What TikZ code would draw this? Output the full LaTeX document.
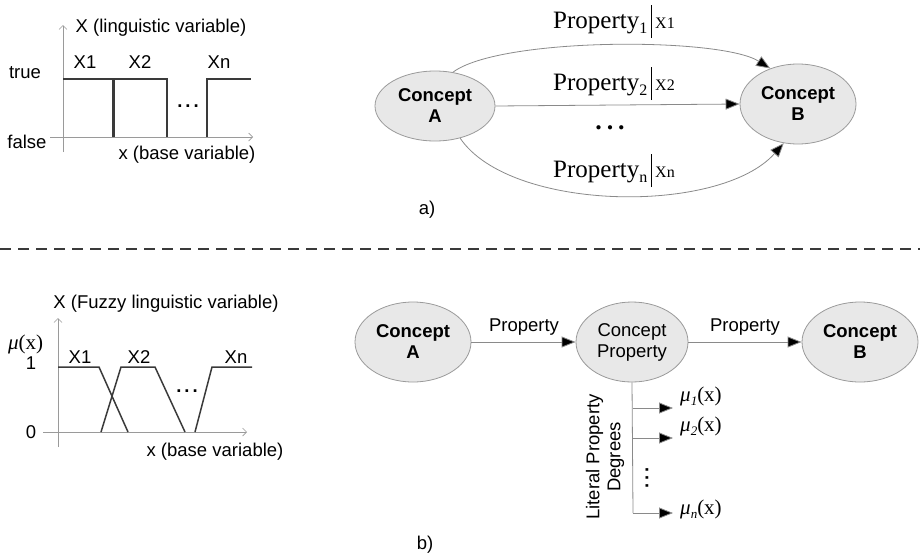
\documentclass[tikz,border=0pt]{standalone}
\usepackage{fontspec}
\setmainfont{Liberation Serif}
\setsansfont{Liberation Sans}
\usetikzlibrary{shapes.geometric,arrows.meta}
\newcommand{\ssz}{\fontsize{18.5}{21}\selectfont}
\newcommand{\proplab}[2]{{\fontsize{25}{28}\selectfont Property}\raisebox{-5pt}{\fontsize{16}{16}\selectfont #1}\hspace{4pt}\rule[-10pt]{0.9pt}{33pt}\hspace{3pt}{\fontsize{16}{16}\selectfont X#2}}
\newcommand{\mulab}[1]{{\fontsize{21}{24}\selectfont\itshape μ}\raisebox{-4pt}{\fontsize{13}{13}\selectfont\itshape #1}{\fontsize{21}{24}\selectfont (x)}}
\definecolor{fillgray}{HTML}{E8E8E8}
\definecolor{edgegray}{HTML}{9A9A9A}
\definecolor{linegray}{HTML}{8A8A8A}
\definecolor{plotline}{HTML}{3A3A3A}
\begin{document}
\begin{tikzpicture}[x=1pt,y=-1pt,
  every node/.style={font=\sffamily\ssz, inner sep=0pt},
  concept/.style={ellipse, draw=edgegray, fill=fillgray, line width=0.8pt, align=center, minimum width=116pt, minimum height=80pt},
  conn/.style={draw=linegray, line width=0.8pt, -{Triangle[length=14pt,width=11pt,fill=black]}},
  axis/.style={draw=edgegray, line width=0.7pt, -{Straight Barb[length=4pt,width=8pt]}},
  curve/.style={draw=plotline, line width=1.5pt},
  serifl/.style={font=\rmfamily}]
\useasboundingbox (0,0) rectangle (920,557);

% ---------- a) crisp plot ----------
\draw[axis] (63,152) -- (63,25);
\draw[axis] (50,137) -- (253,137);
\draw[curve] (63,79) -- (113,79) -- (113,137);
\draw[curve] (114,137) -- (114,79) -- (167,79) -- (167,137);
\draw[curve] (207,137) -- (207,79) -- (251,79);
\node (ta) at (161,28) {X (linguistic variable)};
\node (tx1) at (85,62) {X1};
\node (tx2) at (140,62) {X2};
\node (txn) at (219,62) {Xn};
\node (ttrue) at (25,73) {true};
\node (tfalse) at (27,142) {false};
\node (tbase) at (187,155) {x (base variable)};
\node[font=\sffamily\bfseries\ssz] (tdots) at (188,106) {.\hspace{3pt}.\hspace{3pt}.};

% ---------- a) graph ----------
\node[concept, minimum width=120pt, minimum height=70pt] (A1) at (435,106) {\textbf{Concept}\\\textbf{A}};
\node[concept] (B1) at (798,104) {\textbf{Concept}\\\textbf{B}};
\draw[conn] (A1.62) .. controls (500,37) and (720,37) .. (B1.128);
\draw[conn] (A1.east) -- (B1.west);
\draw[conn] (A1.-52) .. controls (510,212) and (720,215) .. (B1.-110);
\node[serifl, anchor=base west] (p1) at (553,28) {\proplab{1}{1}};
\node[serifl, anchor=base west] (p2) at (553,90) {\proplab{2}{2}};
\node[serifl, anchor=base west] (pn) at (553,177) {\proplab{n}{n}};
\node[font=\rmfamily\bfseries\fontsize{26}{26}\selectfont] (pdots) at (610,128) {.\hspace{5pt}.\hspace{5pt}.};
\node (la) at (427,210) {a)};

% ---------- separator ----------
\coordinate (sepL) at (0,249);
\coordinate (sepR) at (920,249);
\draw[draw=plotline, line width=1.2pt, dash pattern=on 11pt off 7pt] (sepL) -- (sepR);

% ---------- b) fuzzy plot ----------
\draw[axis] (58,447) -- (58,318);
\draw[axis] (43,432) -- (247,432);
\draw[curve] (58,367) -- (99,367) -- (128,432);
\draw[curve] (101,432) -- (121,367) -- (155,367) -- (185,432);
\draw[curve] (195,432) -- (212,367) -- (252,367);
\node (fa) at (166,304) {X (Fuzzy linguistic variable)};
\node[serifl, anchor=base west] (fmu) at (8,349) {{\fontsize{21}{24}\selectfont\itshape μ}{\fontsize{21}{24}\selectfont (x)}};
\node (f1) at (31,363) {1};
\node (f0) at (31,432) {0};
\node (fx1) at (80,357) {X1};
\node (fx2) at (139,357) {X2};
\node (fxn) at (236,357) {Xn};
\node (fbase) at (215,452) {x (base variable)};
\node[font=\sffamily\bfseries\ssz] (fdots) at (187,391) {.\hspace{3pt}.\hspace{3pt}.};

% ---------- b) graph ----------
\node[concept] (A2) at (413,342) {\textbf{Concept}\\\textbf{A}};
\node[concept, minimum width=112pt] (P2) at (632,342) {Concept\\Property};
\node[concept] (B2) at (860,342) {\textbf{Concept}\\\textbf{B}};
\draw[conn] (A2.east) -- (P2.west);
\draw[conn] (P2.east) -- (B2.west);
\node (lp1) at (524,327) {Property};
\node (lp2) at (745,327) {Property};

\coordinate (v0) at (633,408);
\coordinate (v1) at (633,438);
\coordinate (vn) at (633,513);
\coordinate (e0) at (673,408);
\coordinate (e1) at (673,438);
\coordinate (en) at (673,513);
\draw[draw=linegray, line width=0.8pt] (P2.south) -- (vn);
\draw[conn] (v0) -- (e0);
\draw[conn] (v1) -- (e1);
\draw[conn] (vn) -- (en);
\node[serifl, anchor=base west] (m1) at (680,401) {\mulab{1}};
\node[serifl, anchor=base west] (m2) at (680,431) {\mulab{2}};
\node[serifl, anchor=base west] (mn) at (680,514) {\mulab{n}};
\node[font=\sffamily\bfseries\ssz, rotate=90] (vdots) at (647,478) {.\hspace{3pt}.\hspace{3pt}.};
\node[rotate=90, align=center] (lit) at (605,457) {Literal Property\\Degrees};
\node (lb) at (425,545) {b)};
\end{tikzpicture}
\end{document}
